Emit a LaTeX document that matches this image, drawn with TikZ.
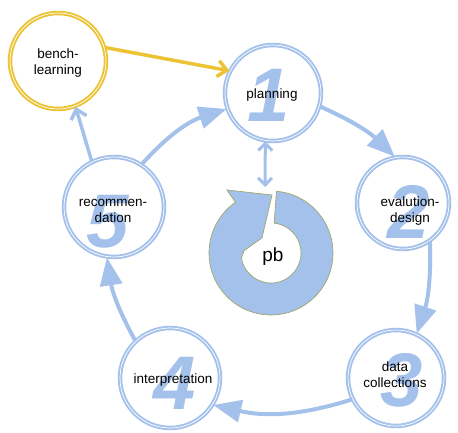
\documentclass[tikz,border=0pt]{standalone}
\usepackage{fontspec}
\setmainfont{Liberation Sans}
\usetikzlibrary{arrows.meta,calc}
\definecolor{lblue}{HTML}{A3C1EA}
\definecolor{ylw}{HTML}{EBC335}
\definecolor{pbline}{HTML}{9AA25A}
\begin{document}
\begin{tikzpicture}[x=1pt,y=1pt,
  ring/.style={circle, draw=lblue, line width=1.9pt, double=white, double distance=0.7pt, inner sep=0pt, minimum size=#1},
  lbl/.style={align=center, font=\fontsize{13.5}{16}\selectfont, text=black, inner sep=0pt},
  digit/.style={text=lblue, font=\fontsize{76}{76}\selectfont\bfseries\itshape, inner sep=0pt},
  conn/.style={draw=lblue, line width=4pt, -{Triangle[length=28pt,width=22pt]}},
  barbconn/.style={line width=3.5pt, -{Straight Barb[length=9pt,width=16pt]}}]
\useasboundingbox (0,0) rectangle (458,433);
% digits
\node[digit] (d1) at (269,338) {1};
\node[digit] (d2) at (409,221) {2};
\node[digit] (d3) at (402,53) {3};
\node[digit] (d4) at (175,50) {4};
\node[digit] (d5) at (108,211) {5};
% circles
\node[ring=96pt, draw=ylw] (B) at (58,372) {};
\node[ring=96pt] (P) at (273,340) {};
\node[ring=92pt] (E) at (403,230) {};
\node[ring=96pt] (D) at (396,55) {};
\node[ring=100pt] (I) at (170,55) {};
\node[ring=100pt] (R) at (114,226) {};
% labels
\node[lbl] (tB) at (58,370) {bench-\\learning};
\node[lbl] (tP) at (272,338) {planning};
\node[lbl] (tE) at (410,222) {evalution-\\design};
\node[lbl] (tD) at (395,58) {data\\collections};
\node[lbl] (tI) at (173,53) {interpretation};
\node[lbl] (tR) at (113,222) {recommen-\\dation};
% pb circular arrow
\coordinate (C) at (271,180);
\filldraw[fill=lblue, draw=pbline, line width=0.6pt]
  ($(C)+(85:62)$) arc[start angle=85, end angle=-235, radius=62]
  -- ($(C)+(125:77)$) -- ($(C)+(89:58)$) -- ($(C)+(121:17.5)$)
  -- ($(C)+(175:27)$) -- ($(C)+(190:30)$)
  arc[start angle=190, end angle=444, radius=30] -- cycle;
\node[font=\fontsize{19}{19}\selectfont, inner sep=0pt] (pb) at (273,176) {pb};
\coordinate (pbtop) at (265,246);
% connectors
\draw[barbconn, draw=ylw] (B.16) -- (P.153);
\draw[barbconn, draw=lblue] (R.116) -- (B.291);
\draw[conn] (R.57) to[bend left=15] (P.199);
\draw[conn] (P.-16) to[bend left=10] (E.100);
\draw[conn] (E.-55) to[bend left=10] (D.65);
\draw[conn] (D.206) to[bend left=15] (I.-32);
\draw[conn] (I.133) to[bend left=10] (R.262);
\draw[draw=lblue, line width=3pt, {Straight Barb[length=7pt,width=14pt]}-{Straight Barb[length=7pt,width=14pt]}] (P.261) -- (pbtop);
\end{tikzpicture}
\end{document}
